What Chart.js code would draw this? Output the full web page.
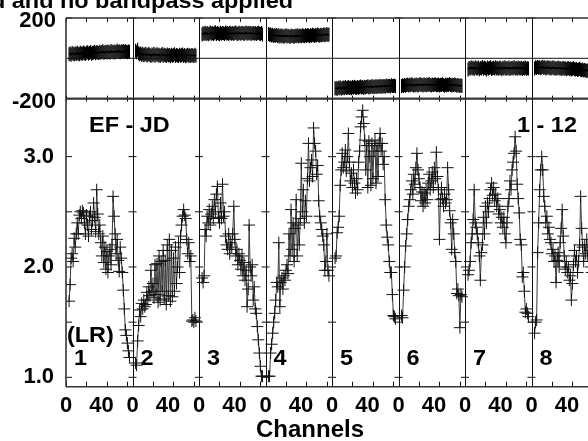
<!DOCTYPE html>
<html><head><meta charset="utf-8">
<script src="https://cdn.jsdelivr.net/npm/chart.js@4"></script>
<style>
html,body{margin:0;padding:0;background:#fff;overflow:hidden;width:588px;height:441px;}
#wrap{position:relative;width:588px;height:441px;overflow:hidden;background:#fff;}
canvas{position:absolute;left:0;top:0;}
</style></head><body>
<div id="wrap"><canvas id="ph" width="640" height="441" style="width:640px;height:441px"></canvas><canvas id="amp" width="640" height="441" style="width:640px;height:441px"></canvas></div>
<script>
// ---------------- data ----------------
const TITLE = "Calibration applied and no bandpass applied";
const XTITLE = "Channels";
const PANEL_NAMES = ["1","2","3","4","5","6","7","8"];
const BASELINE_TEXT = ["EF - JD", "1 - 12"];
const POL_TEXT = "(LR)";
const PANEL_W = 65;          // channel units per panel (64 channels + gap)
const FIRST_CH = 3;          // first plotted channel in each panel
const X_LABELS = [0, 40];
const X_TICKS = [0, 20, 40, 60];
const PHASE_TICKS = [-200, 200];
const AMP_TICKS = [1.0, 1.5, 2.0, 2.5, 3.0];

const amp1 = [1.69,1.84,2.08,2.12,2.05,2.26,2.18,2.30,2.40,2.30,2.47,2.50,2.44,2.51,2.49,2.40,2.30,2.47,2.38,2.28,2.46,2.50,2.34,2.42,2.58,2.45,2.32,2.70,2.48,2.30,2.38,2.22,2.10,2.28,2.04,2.18,1.98,2.14,1.95,2.10,2.16,2.02,2.20,2.64,2.46,2.30,2.12,2.25,2.06,1.96,2.18,2.08,1.95,1.79,1.62,1.43,1.38,1.31,1.24,1.18];
const amp2 = [1.13,1.11,1.33,1.47,1.61,1.55,1.67,1.62,1.70,1.64,1.66,1.77,1.70,1.82,1.74,1.97,1.78,1.85,1.72,2.02,1.75,2.03,1.68,2.10,1.70,2.05,1.78,2.15,1.71,2.06,1.66,2.20,1.74,2.25,1.69,2.15,1.73,2.08,1.78,2.18,1.85,2.00,2.22,1.95,2.28,2.38,2.46,2.52,2.47,2.44,2.25,2.12,2.22,2.05,2.10,1.51,1.52,1.50,1.54,1.51];
const amp3 = [1.90,1.86,1.92,2.34,2.28,2.46,2.40,2.52,2.38,2.48,2.55,2.44,2.61,2.50,2.66,2.73,2.45,2.40,2.58,2.44,2.75,2.46,2.50,2.28,2.20,2.16,2.30,2.12,2.22,2.18,2.30,2.55,2.25,2.10,2.16,2.02,2.12,2.06,1.98,2.10,1.92,2.04,1.88,1.97,1.64,1.80,2.38,2.00,1.92,2.02,1.70,1.82,1.62,1.58,1.46,1.34,1.22,1.10,1.01,1.01];
const amp4 = [1.01,1.01,1.22,1.30,1.40,1.50,1.58,1.70,1.86,1.82,2.22,1.64,1.86,1.90,1.80,1.92,1.88,1.97,2.02,1.94,2.30,2.10,2.52,2.16,2.40,2.05,2.35,2.61,2.10,2.38,2.20,2.44,2.94,2.50,2.70,2.40,2.60,2.46,2.80,3.12,2.78,2.90,2.97,2.82,3.26,3.12,3.05,2.84,2.92,2.60,2.46,2.40,2.34,2.28,2.20,1.97,2.05,2.30,1.97,1.92];
const amp5 = [2.08,2.10,2.31,2.36,2.46,2.74,2.88,3.03,2.90,2.95,3.06,2.87,3.00,3.21,2.95,2.78,2.85,2.72,2.88,2.76,2.67,2.80,2.70,2.95,3.05,3.27,3.36,3.42,3.30,3.15,2.88,3.10,2.72,3.14,3.00,2.74,3.12,2.80,3.05,3.15,2.76,3.10,2.82,3.12,3.21,3.05,3.12,2.93,3.00,2.61,2.38,2.27,2.20,2.05,1.95,1.95,1.75,1.56,1.55,1.53];
const amp6 = [1.56,1.54,1.79,2.00,2.19,2.30,2.43,2.55,2.61,2.70,2.78,2.66,2.84,2.75,2.90,3.03,2.88,2.80,2.72,2.60,2.68,2.55,2.67,2.58,2.70,2.61,2.76,2.84,2.70,2.78,2.86,2.72,2.90,2.80,3.04,2.82,2.70,2.25,2.61,2.72,2.62,2.55,2.66,2.58,2.61,2.90,2.70,2.51,2.40,2.16,2.43,2.30,2.13,2.05,1.76,1.80,1.74,1.45,1.75,1.73];
const amp7 = [1.93,1.97,2.05,2.22,2.30,2.43,2.70,2.40,2.36,2.30,2.22,2.10,1.88,2.13,2.20,2.45,2.30,2.55,2.40,2.58,2.50,2.62,2.70,2.76,2.65,2.72,2.60,2.66,2.55,2.62,2.48,2.52,2.40,2.45,2.36,2.45,2.30,2.22,2.40,2.55,2.62,2.78,2.70,2.88,2.95,3.03,3.18,3.05,2.75,2.62,2.49,2.25,2.20,1.91,1.95,1.78,1.59,1.62,1.58,1.55];
const amp8 = [1.40,1.50,1.52,2.13,2.40,2.70,2.88,3.00,2.88,2.64,2.55,2.40,2.46,2.30,2.36,2.25,2.22,2.12,2.16,2.05,2.10,1.86,2.06,2.13,2.00,2.22,2.35,2.52,2.28,2.10,1.98,2.05,1.95,2.00,1.88,1.92,1.70,1.85,2.02,2.15,2.05,2.10,1.95,2.05,2.20,2.64,2.35,2.18,2.05,2.20,2.12,2.25,2.10,2.05,2.15,2.00,1.95,2.05,2.10,2.00];

const ph1 = [20,24,18,26,22,19,25,21,28,23,20,27,24,22,29,25,21,27,30,24,26,31,23,28,27,33,25,30,29,26,32,28,31,35,27,30,33,29,34,31,28,36,32,30,34,29,33,37,31,35,30,34,32,36,31,35,33,30,34,32];
const ph2 = [38,30,42,25,20,24,17,22,15,19,23,14,18,21,16,12,19,15,22,13,17,20,14,18,11,16,21,13,17,15,12,19,14,16,10,18,13,15,20,12,16,14,11,17,13,15,19,12,16,10,14,18,13,15,11,16,14,12,17,13];
const ph3 = [118,124,120,127,121,125,119,123,128,122,126,120,124,129,121,125,123,119,127,122,126,124,120,128,123,125,121,127,124,122,126,120,125,128,123,121,127,124,122,126,125,120,124,128,122,125,123,127,121,124,126,122,125,120,124,127,123,121,125,118];
const ph4 = [120,116,118,113,117,111,115,112,116,110,114,108,113,109,112,107,111,114,108,112,110,106,113,109,111,107,112,110,114,108,113,111,109,115,112,110,114,111,116,113,110,115,112,117,114,111,116,113,118,115,112,117,114,116,119,115,117,120,116,118];
const ph5 = [-150,-147,-152,-146,-149,-144,-151,-147,-145,-149,-143,-148,-146,-142,-147,-145,-149,-143,-146,-141,-145,-148,-142,-146,-144,-140,-145,-143,-147,-141,-144,-142,-139,-145,-141,-143,-138,-144,-140,-142,-137,-143,-139,-141,-136,-142,-138,-140,-137,-141,-135,-139,-138,-136,-140,-134,-138,-137,-135,-139];
const ph6 = [-138,-134,-137,-132,-136,-133,-130,-135,-131,-134,-129,-133,-136,-131,-134,-130,-135,-132,-128,-133,-131,-135,-129,-132,-134,-130,-133,-128,-132,-135,-130,-133,-131,-129,-134,-132,-130,-135,-131,-133,-129,-132,-136,-130,-134,-131,-133,-128,-132,-135,-131,-134,-130,-133,-136,-132,-135,-138,-134,-137];
const ph7 = [-55,-48,-52,-45,-50,-47,-53,-44,-49,-51,-46,-54,-48,-50,-43,-52,-47,-49,-55,-46,-51,-48,-44,-53,-49,-47,-51,-45,-50,-48,-52,-46,-49,-54,-47,-50,-45,-52,-48,-50,-46,-53,-49,-47,-51,-44,-50,-48,-52,-46,-49,-51,-47,-53,-48,-50,-46,-52,-49,-51];
const ph8 = [-50,-45,-48,-43,-47,-44,-49,-46,-42,-48,-45,-50,-47,-44,-49,-46,-51,-48,-45,-50,-47,-52,-49,-46,-51,-48,-53,-50,-47,-52,-49,-54,-51,-48,-53,-50,-55,-52,-49,-54,-56,-53,-58,-55,-52,-57,-59,-56,-61,-58,-60,-63,-59,-62,-65,-61,-64,-66,-63,-67];

const AMP = [amp1,amp2,amp3,amp4,amp5,amp6,amp7,amp8];
const PHASE = [ph1,ph2,ph3,ph4,ph5,ph6,ph7,ph8];
const NPANEL = AMP.length;

// ---------------- helpers ----------------
const FONT_FAMILY = "'Liberation Sans', Arial, Helvetica, sans-serif";
const TEXT_STRETCH = 1.065;
function toPoints(vals, k){ return vals.map((v,i)=>({x:k*PANEL_W + FIRST_CH + i, y:v})); }
function makeSets(arr, style){
  return arr.map((vals,k)=>Object.assign({
    data: toPoints(vals,k), showLine:true, borderColor:'#3a3a3a', borderWidth:1,
    pointBorderColor:'#111', pointBorderWidth:1, pointBackgroundColor:'#111', fill:false, tension:0
  }, style));
}
function seg(ctx,x1,y1,x2,y2){ ctx.beginPath(); ctx.moveTo(x1,y1); ctx.lineTo(x2,y2); ctx.stroke(); }
function stretchedText(ctx, text, x, y, align){
  ctx.save();
  ctx.translate(x, y); ctx.scale(TEXT_STRETCH, 1);
  ctx.textAlign = align; ctx.fillText(text, 0, 0);
  ctx.restore();
}

const deco = {
  id:'deco',
  afterDatasetsDraw(chart, args, opts){
    const ctx = chart.ctx, xs = chart.scales.x, ys = chart.scales.y, a = chart.chartArea;
    ctx.save();
    ctx.strokeStyle = '#111'; ctx.lineWidth = 1;
    for (let k=1;k<=NPANEL;k++){
      const px = Math.round(xs.getPixelForValue(k*PANEL_W))+0.5;
      seg(ctx,px,a.top,px,a.bottom);
    }
    ys.ticks.forEach(t=>{
      const py = ys.getPixelForValue(t.value);
      seg(ctx,a.left,py,a.left+6,py);
      for (let k=1;k<=NPANEL;k++){
        const px = xs.getPixelForValue(k*PANEL_W);
        seg(ctx,px-4,py,px+4,py);
      }
    });
    for (let k=0;k<NPANEL;k++){
      X_TICKS.forEach(c=>{
        const px = Math.round(xs.getPixelForValue(k*PANEL_W+c))+0.5;
        if (opts.kind==='amp'){
          seg(ctx,px,a.bottom,px,a.bottom-5);
          seg(ctx,px,a.top-3,px,a.top+3);
        } else {
          seg(ctx,px,a.top,px,a.top+4);
        }
      });
    }
    if (opts.kind==='phase'){
      const y0 = ys.getPixelForValue(0);
      seg(ctx,a.left,y0,a.right,y0);
    }
    ctx.strokeStyle = '#333'; ctx.lineWidth = 1.6;
    seg(ctx,a.left,a.top,a.left,a.bottom);
    seg(ctx,a.left,a.top,a.right,a.top);
    seg(ctx,a.left,a.bottom,a.right,a.bottom);
    ctx.restore();
  },
  afterDraw(chart, args, opts){
    if (opts.kind!=='amp') return;
    const ctx = chart.ctx, xs = chart.scales.x;
    ctx.save();
    ctx.fillStyle = '#000';
    ctx.textBaseline = 'alphabetic';
    ctx.font = "bold 22px " + FONT_FAMILY;
    stretchedText(ctx, TITLE, 293, 7.5, 'right');
    stretchedText(ctx, BASELINE_TEXT[0], 89, 132, 'left');
    stretchedText(ctx, BASELINE_TEXT[1], 517, 132, 'left');
    stretchedText(ctx, POL_TEXT, 67, 341.5, 'left');
    PANEL_NAMES.forEach((n,k)=>{
      stretchedText(ctx, n, xs.getPixelForValue(k*PANEL_W)+8, 365, 'left');
    });
    ctx.font = "bold 24px " + FONT_FAMILY;
    ctx.textAlign = 'center';
    ctx.fillText(XTITLE, 310, 436.5);
    ctx.restore();
  }
};

const tickFont = {family: FONT_FAMILY, size:22, weight:'bold'};
const xBase = {
  type:'linear', min:0, max:NPANEL*PANEL_W,
  grid:{display:false, drawTicks:false}, border:{display:false}
};
function fixY(s){ s.width = 66; s.paddingTop = 0; s.paddingBottom = 0; }

// ---------------- phase chart ----------------
new Chart(document.getElementById('ph'), {
  type:'scatter',
  data:{datasets: makeSets(PHASE, {pointStyle:'line', pointRotation:90, pointRadius:7, pointBorderColor:'#000', pointBorderWidth:1.2, borderColor:'#000', borderWidth:1.5})},
  options:{
    responsive:false, animation:false, devicePixelRatio:1,
    layout:{padding:{left:0,right:42,top:18,bottom:441-98.6}},
    plugins:{legend:{display:false}, tooltip:{enabled:false}, deco:{kind:'phase'}},
    scales:{
      x: Object.assign({}, xBase, {display:false}),
      y: {
        min:-200, max:200,
        grid:{display:false, drawTicks:false}, border:{display:false},
        afterFit: fixY,
        afterBuildTicks(s){ s.ticks = PHASE_TICKS.map(v=>({value:v})); },
        ticks:{font:tickFont, color:'#000', padding:10, labelOffset:3, callback:v=>String(v)}
      }
    }
  },
  plugins:[deco]
});

// ---------------- amplitude chart ----------------
new Chart(document.getElementById('amp'), {
  type:'scatter',
  data:{datasets: makeSets(AMP, {pointStyle:'cross', pointRadius:6})},
  options:{
    responsive:false, animation:false, devicePixelRatio:1,
    layout:{padding:{left:0,right:42,top:98.6,bottom:0}},
    plugins:{legend:{display:false}, tooltip:{enabled:false}, deco:{kind:'amp'}},
    scales:{
      x: Object.assign({}, xBase, {
        afterFit(s){ s.height = 441-386.7; },
        afterBuildTicks(s){
          const t=[]; for(let k=0;k<NPANEL;k++) X_LABELS.forEach(c=>t.push({value:k*PANEL_W+c}));
          s.ticks = t;
        },
        ticks:{font:tickFont, color:'#000', padding:6, autoSkip:false, maxRotation:0,
          callback:v=>{ const c = v % PANEL_W; return c===0 ? '0' : String(c)+'\u2002'; }}
      }),
      y: {
        min:0.915, max:3.526,
        grid:{display:false, drawTicks:false}, border:{display:false},
        afterFit: fixY,
        afterBuildTicks(s){ s.ticks = AMP_TICKS.map(v=>({value:v})); },
        ticks:{font:tickFont, color:'#000', padding:12,
          callback:v=> (Math.abs(v-Math.round(v))<1e-6 ? v.toFixed(1) : '')}
      }
    }
  },
  plugins:[deco]
});
</script>
</body></html>
